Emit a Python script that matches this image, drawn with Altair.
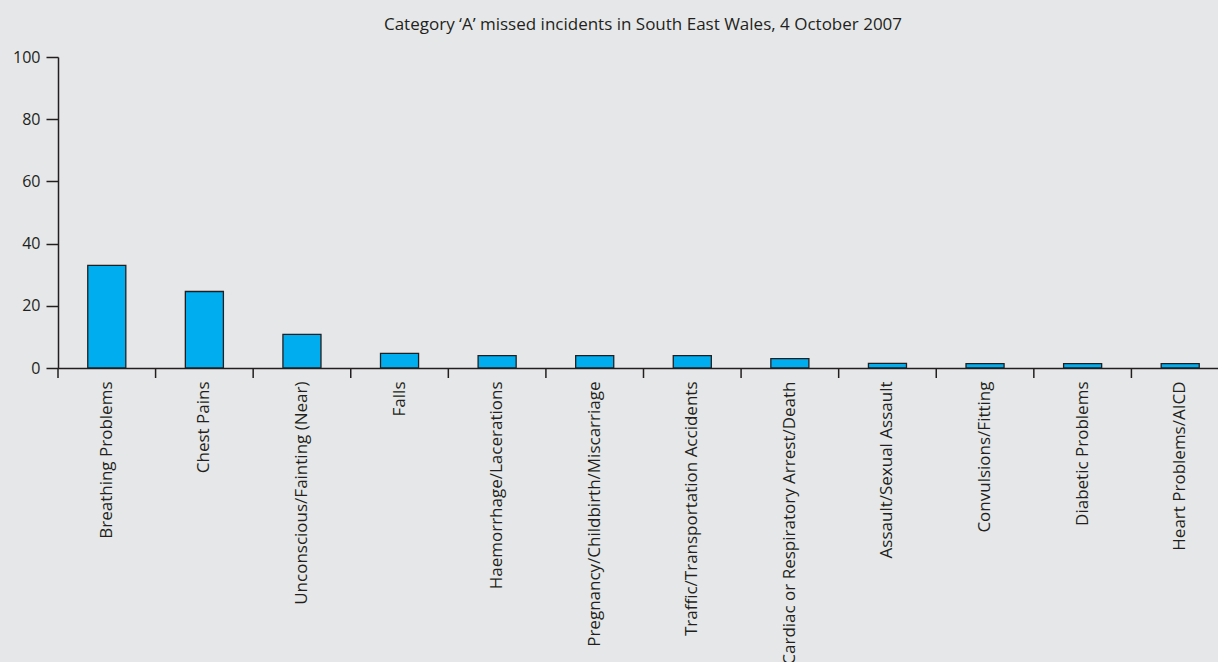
import altair as alt
import pandas as pd

categories = [
    "Breathing Problems",
    "Chest Pains",
    "Unconscious/Fainting (Near)",
    "Falls",
    "Haemorrhage/Lacerations",
    "Pregnancy/Childbirth/Miscarriage",
    "Traffic/Transportation Accidents",
    "Cardiac or Respiratory Arrest/Death",
    "Assault/Sexual Assault",
    "Convulsions/Fitting",
    "Diabetic Problems",
    "Heart Problems/AICD",
]
values = [33.0, 24.6, 10.8, 4.7, 4.0, 4.0, 4.0, 3.0, 1.5, 1.4, 1.4, 1.4]
y_ticks = [0, 20, 40, 60, 80, 100]
title_text = "Category \u2018A\u2019 missed incidents in South East Wales, 4 October 2007"

df = pd.DataFrame({"category": categories, "value": values})

FONT = "Open Sans"
TEXT = "#231f20"
LINE = "#231f20"
BG = "#e6e7e8"

xscale = alt.Scale(domain=categories, paddingInner=0, paddingOuter=0, range=[0, 1171])
xaxis = alt.Axis(
    title=None,
    labelAngle=-90,
    ticks=False,
    labelPadding=13,
    labelFont=FONT,
    labelFontSize=17,
    labelColor=TEXT,
    domainColor=LINE,
    domainWidth=1.5,
    labelLimit=400,
)

bars = alt.Chart(df).mark_bar(
    width=alt.RelativeBandSize(band=0.39),
    color="#00aeef",
    stroke=LINE,
    strokeWidth=1.3,
).encode(
    x=alt.X("category:N", sort=categories, scale=xscale, axis=xaxis),
    y=alt.Y(
        "value:Q",
        scale=alt.Scale(domain=[0, 100]),
        axis=alt.Axis(
            values=y_ticks,
            title=None,
            grid=False,
            tickSize=12,
            tickWidth=1.5,
            tickColor=LINE,
            domainColor=LINE,
            domainWidth=1.5,
            labelPadding=6,
            labelFont=FONT,
            labelFontSize=16,
            labelColor=TEXT,
        ),
    ),
)

ticks = alt.Chart(df).mark_rule(color=LINE, strokeWidth=1.5).encode(
    x=alt.X("category:N", sort=categories, scale=xscale, bandPosition=0, axis=xaxis),
    y=alt.value(311),
    y2=alt.value(321),
)

chart = (
    alt.layer(bars, ticks)
    .properties(
        width=1160,
        height=311,
        background=BG,
        padding={"left": 58, "top": 57, "right": 0, "bottom": 294},
        autosize=alt.AutoSizeParams(type="none"),
        title=alt.TitleParams(
            text=title_text,
            font=FONT,
            fontSize=17,
            fontWeight="normal",
            color=TEXT,
            anchor="middle",
            dx=5,
            offset=15,
        ),
    )
    .configure_view(stroke=None)
)

chart.save("out.html", embed_options={"renderer": "svg", "actions": False})
